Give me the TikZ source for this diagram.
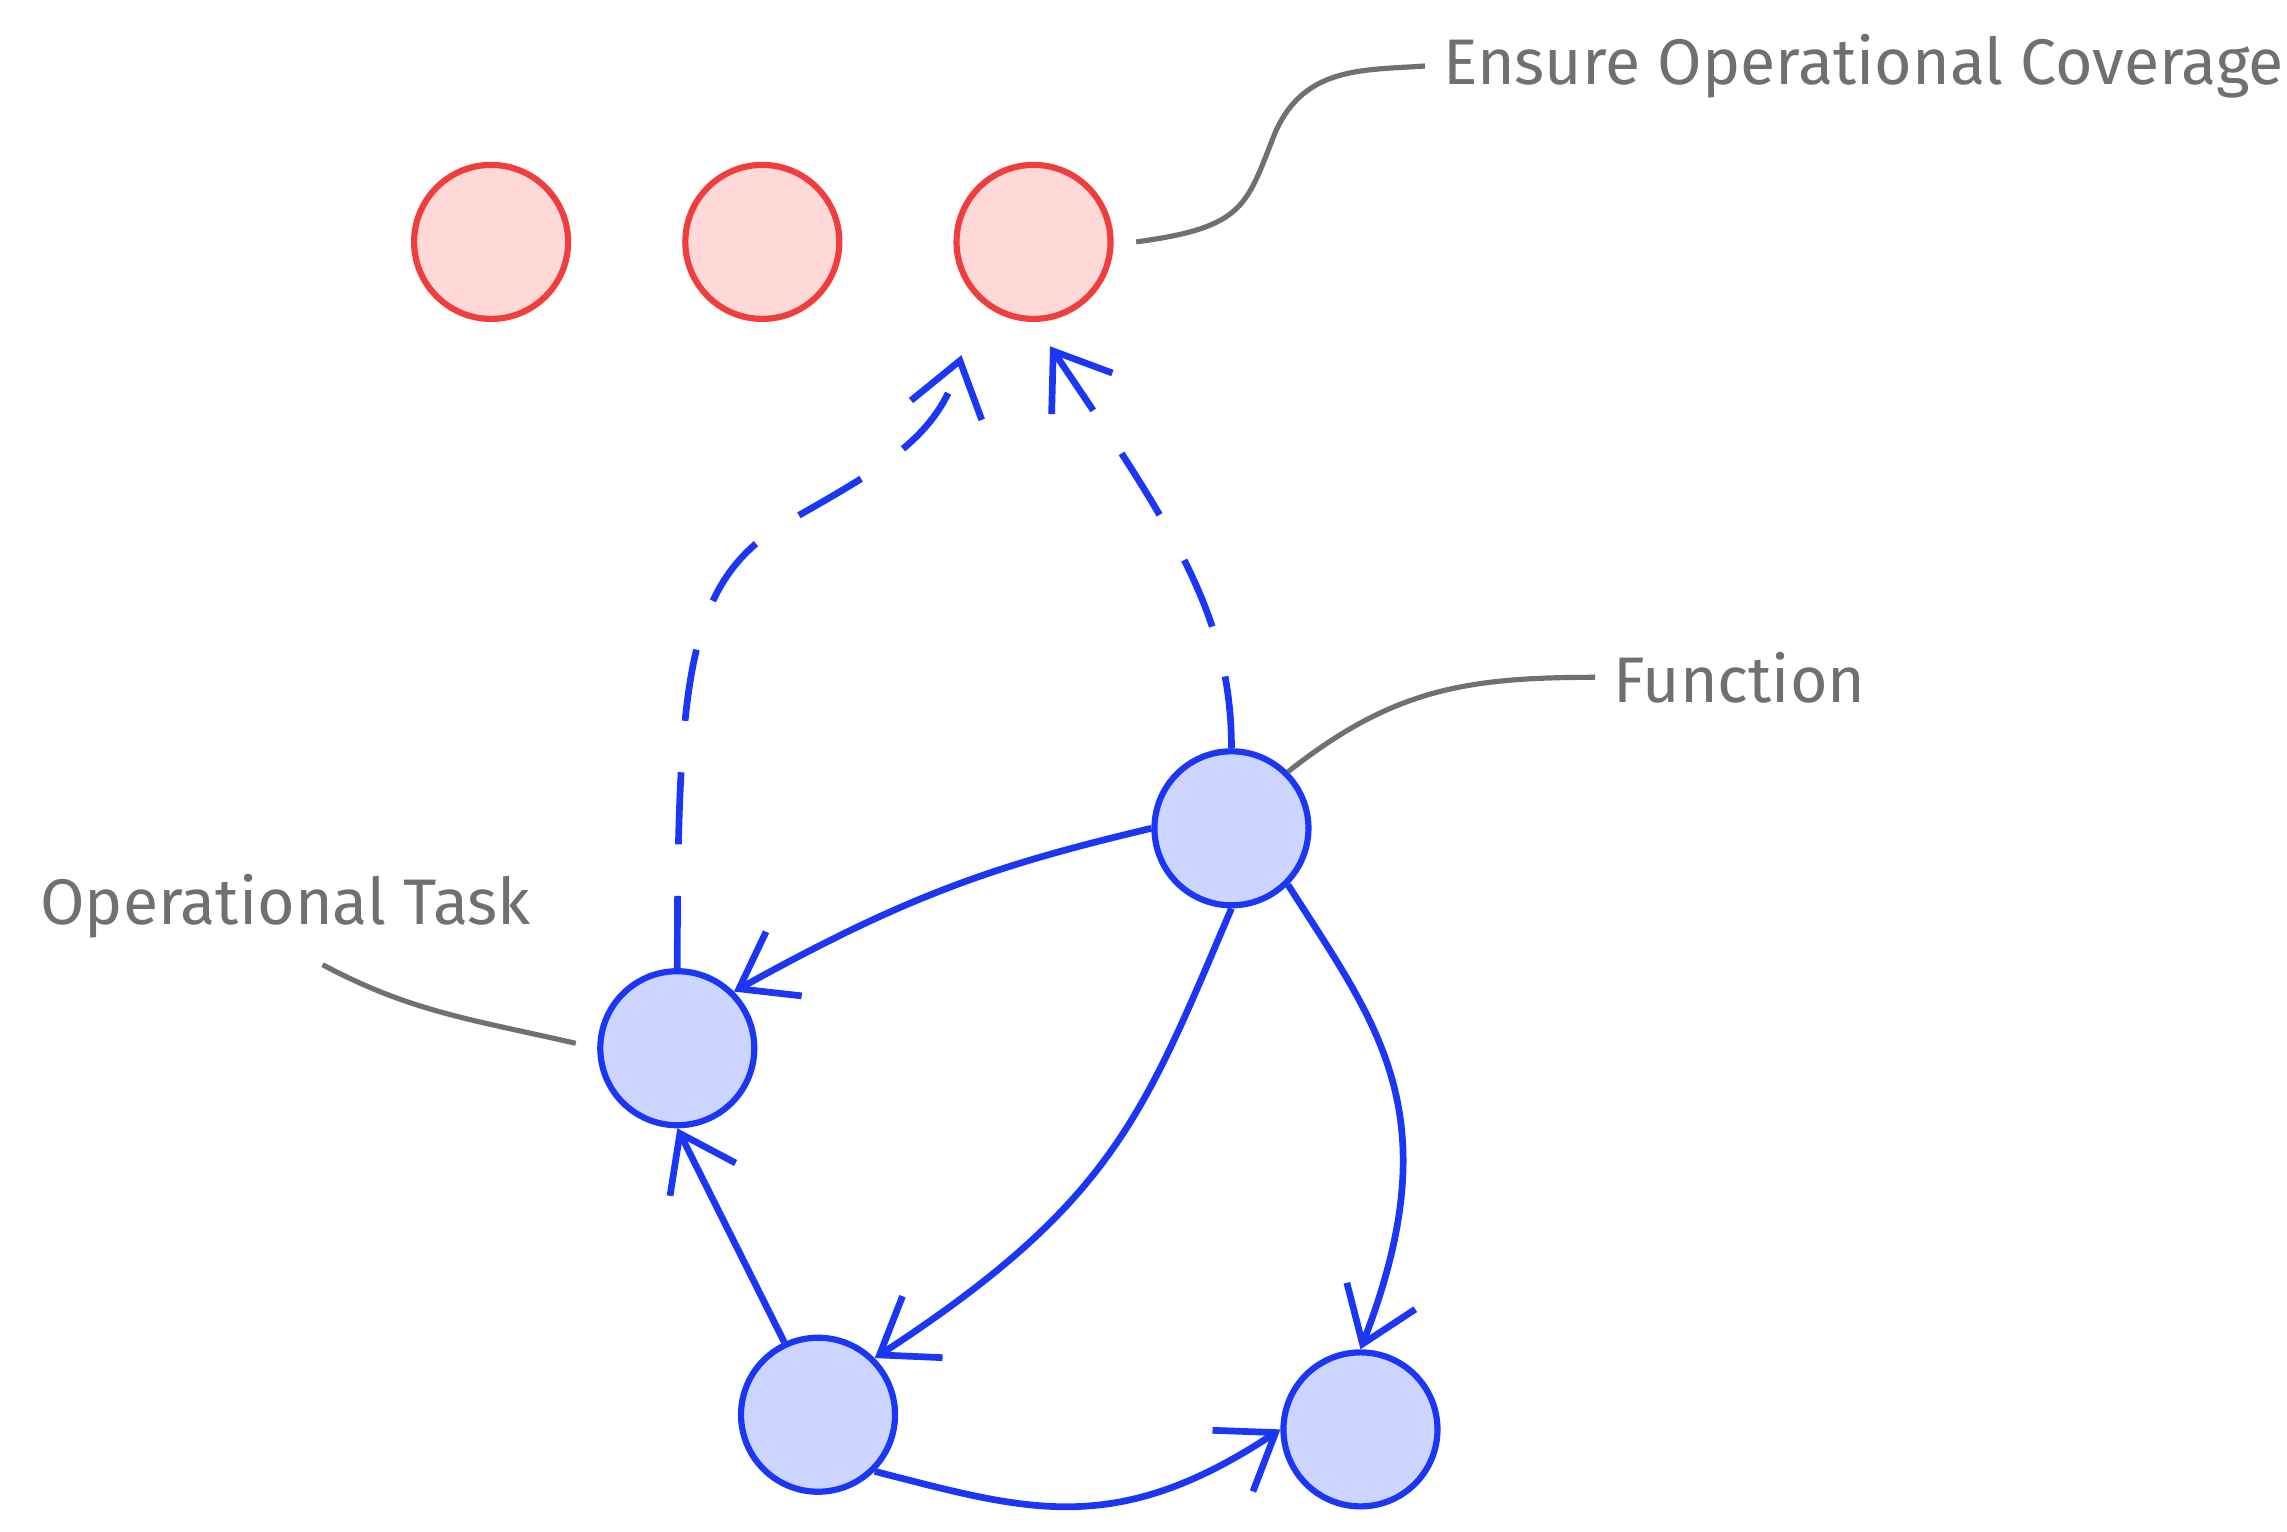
\documentclass[tikz,border=0pt]{standalone}
\usepackage{fontspec}
\setmainfont{Fira Sans}
\usetikzlibrary{arrows.meta}
\definecolor{redline}{HTML}{F03E3E}
\definecolor{redfill}{HTML}{FFD8D8}
\definecolor{blueline}{HTML}{1C36F5}
\definecolor{bluefill}{HTML}{CCD5FF}
\definecolor{note}{HTML}{707070}
\tikzset{
  goal/.style={circle, draw=redline, fill=redfill, line width=1.2pt, minimum size=1.05cm},
  func/.style={circle, draw=blueline, fill=bluefill, line width=1.2pt, minimum size=1.05cm},
  link/.style={draw=blueline, line width=1.3pt, -{Straight Barb[length=3.5mm, width=5mm]}},
  label/.style={font=\fontsize{12.5}{15}\selectfont, text=note, anchor=west},
  leader/.style={draw=note, line width=1pt}
}
\begin{document}
\begin{tikzpicture}[x=0.01cm, y=-0.01cm]
		\useasboundingbox (0, 0) rectangle (1560, 1045);
		% goals
		\node[goal] (g1) at (335, 165) {};
		\node[goal] (g2) at (520, 165) {};
		\node[goal] (g3) at (705, 165) {};
		
		% functions
		\node[func] (f) at (840, 565) {};
		\node[func] (t) at (462, 715) {};
		\node[func] (a) at (558, 965) {};
		\node[func] (b) at (928, 975) {};
		
		% labels
		\node[label] (lcov) at (972, 45) {Ensure Operational Coverage};
		\node[label] (lfun) at (1088, 462) {Function};
		\node[label] (ltask) at (15, 618) {Operational Task};
		\coordinate (tend) at (220, 658);
		\draw[leader] (775, 165) .. controls (850, 155) and (850, 140) .. (870, 90) .. controls (890, 45) and (930, 48) .. (lcov.west);
		\draw[leader] (f.north east) .. controls (950, 470) and (1000, 462) .. (lfun.west);
		\draw[leader, shorten <=1.5mm] (t.west) .. controls (320, 695) and (280, 690) .. (tend);
		
		% dashed links
		\draw[link, dashed, dash pattern=on 14pt off 10pt, shorten >=4mm] (t.north) .. controls (462, 460) and (470, 400) .. (530, 360) .. controls (600, 320) and (640, 300) .. (g3.south west);
		\draw[link, dashed, dash pattern=on 14pt off 10pt, shorten >=2mm] (f.north) .. controls (840, 420) and (800, 360) .. (g3.south);
		
		% solid links
		\draw[link] (f.west) .. controls (680, 590) and (620, 610) .. (t.north east);
		\draw[link] (f.south) .. controls (780, 760) and (760, 820) .. (a.north east);
		\draw[link] (f.south east) .. controls (940, 700) and (990, 760) .. (b.north);
		\draw[link] (a.115) -- (t.south);
		\draw[link] (a.south east) .. controls (700, 1030) and (760, 1050) .. (b.west);
	\end{tikzpicture}
\end{document}
